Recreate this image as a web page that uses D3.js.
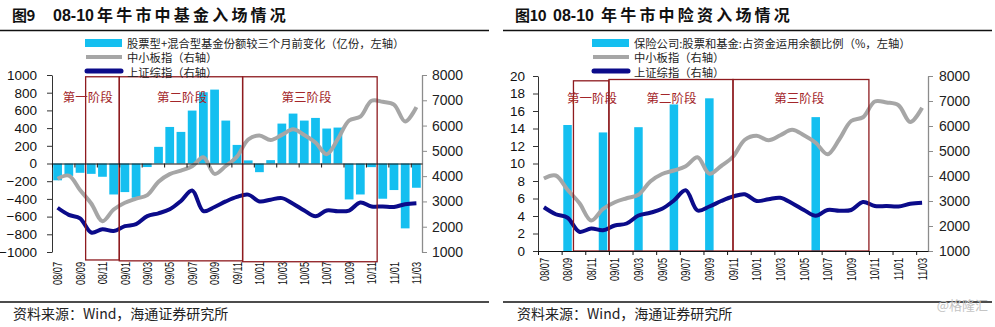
<!DOCTYPE html>
<html>
<head>
<meta charset="utf-8">
<script src="https://cdn.jsdelivr.net/npm/d3@7"></script>
<style>
  body { margin: 0; background: #fff; }
  svg { display: block; }
  text { font-family: Arial, "Liberation Sans", sans-serif; }
  .cjk { font-family: "Noto Sans CJK SC", sans-serif; }
</style>
</head>
<body>
<svg id="chart" width="995" height="327"></svg>
<script>
// monthly categories, Jul 2008 - Mar 2011
const months = [
  '08/07', '08/08', '08/09', '08/10', '08/11', '08/12',
  '09/01', '09/02', '09/03', '09/04', '09/05', '09/06',
  '09/07', '09/08', '09/09', '09/10', '09/11', '09/12',
  '10/01', '10/02', '10/03', '10/04', '10/05', '10/06',
  '10/07', '10/08', '10/09', '10/10', '10/11', '10/12',
  '11/01', '11/02', '11/03'
];
const tickMonths = months.filter((d, i) => i % 2 === 0);

// equity + hybrid fund shares, change vs 3 months earlier (100m units)
const fundChange = [
  -190, -140, -105, -117, -150, -350,
  -323, -387, -40, 188, 413, 357,
  598, 805, 835, 485, 210, 35,
  -98, 38, 451, 564, 485, 515,
  395, 406, -406, -350, -41, -398,
  -300, -733, -274
];

// insurers: stocks + funds as % of invested assets (quarterly)
const insuranceQuarters = ['08/09', '08/12', '09/03', '09/06', '09/09', '10/06'];
const insuranceShare = [14.4, 13.55, 14.15, 16.75, 17.45, 15.3];

// SME board index and Shanghai composite, monthly
const smeIndex = [
  3900, 4020, 3450, 2920, 2220, 2680,
  2950, 3110, 3250, 3780, 4080, 4220,
  4390, 4750, 4090, 4400, 4770, 5450,
  5610, 5430, 5630, 5850, 5630, 5330,
  4870, 5470, 6200, 6350, 6980, 6940,
  6830, 6160, 6730
];
const sseIndex = [
  2750, 2470, 2330, 1770, 1900, 1830,
  2020, 2100, 2420, 2530, 2690, 3020,
  3430, 2620, 2780, 3000, 3180, 3270,
  3000, 3070, 3130, 2910, 2640, 2410,
  2640, 2610, 2640, 2960, 2800, 2800,
  2780, 2890, 2930
];

const stageNames = ['第一阶段', '第二阶段', '第三阶段'];
// stage spans in month units from Jul 2008
const fundStageSpans = [[3, 6], [6, 17], [17, 29]];
const insuranceStageSpans = [[3, 6], [6, 16.5], [16.5, 28]];

const CYAN = '#14bff0', GRAY = '#a6a6a6', NAVY = '#0b0b8a', MAROON = '#8e1b1f';

const svg = d3.select('#chart');
svg.append('rect').attr('width', 995).attr('height', 327).attr('fill', '#fff');

function drawPanel(p) {
  const g = svg.append('g');

  const x = d3.scaleBand().domain(months).range([p.x0, p.x1])
    .paddingInner(p.pad).paddingOuter(p.pad / 2);
  const monthPos = d3.scaleLinear().domain([0, months.length]).range([p.x0, p.x1]);
  const cx = m => x(m) + x.bandwidth() / 2;
  const yL = d3.scaleLinear().domain(p.leftDomain).range([p.yBottom, p.yTop]);
  const yR = d3.scaleLinear().domain([1000, 8000]).range([p.yBottom, p.yTop]);

  // title + rules
  const title = g.append('g').attr('font-weight', 'bold').attr('fill', '#111');
  title.append('text').attr('class', 'cjk').attr('x', p.titleX).attr('y', 21)
    .attr('font-size', 15).attr('letter-spacing', -0.5).text(p.titleNo);
  title.append('text').attr('x', p.titleX2).attr('y', 21)
    .attr('font-size', 16).text('08-10');
  title.append('text').attr('class', 'cjk').attr('x', p.titleX3).attr('y', 21)
    .attr('font-size', 16).attr('letter-spacing', 3.2).text(p.title);
  g.append('line').attr('x1', p.ruleX0).attr('x2', p.ruleX1).attr('y1', 30.5).attr('y2', 30.5)
    .attr('stroke', '#111').attr('stroke-width', 1.5);
  g.append('line').attr('x1', p.ruleX0).attr('x2', p.ruleX1).attr('y1', 302).attr('y2', 302)
    .attr('stroke', '#111').attr('stroke-width', 1.5);
  g.append('text').attr('class', 'cjk').attr('x', p.sourceX).attr('y', 319)
    .attr('font-size', 14).attr('fill', '#222')
    .text('资料来源：Wind，海通证券研究所');

  // bars
  g.selectAll('.bar').data(p.bars).join('rect')
    .attr('class', 'bar')
    .attr('x', d => x(d.month))
    .attr('width', x.bandwidth())
    .attr('y', d => yL(Math.max(0, d.value)))
    .attr('height', d => Math.abs(yL(d.value) - yL(0)))
    .attr('fill', CYAN);

  // index lines
  const line = d3.line()
    .x((d, i) => cx(months[i]))
    .y(d => yR(d))
    .curve(d3.curveCatmullRom.alpha(0.5));
  g.append('path').attr('d', line(smeIndex)).attr('fill', 'none')
    .attr('stroke', GRAY).attr('stroke-width', 4).attr('stroke-linejoin', 'round');
  g.append('path').attr('d', line(sseIndex)).attr('fill', 'none')
    .attr('stroke', NAVY).attr('stroke-width', 4).attr('stroke-linejoin', 'round');

  // stage boxes
  p.stages.forEach((s, i) => {
    const top = yL(p.stageTop[i]), bottom = yL(p.stageBottom[i]);
    g.append('rect')
      .attr('x', monthPos(s[0])).attr('y', top)
      .attr('width', monthPos(s[1]) - monthPos(s[0]))
      .attr('height', bottom - top)
      .attr('fill', 'none').attr('stroke', MAROON).attr('stroke-width', 1.3);
    g.append('text').attr('class', 'cjk')
      .attr('x', monthPos(p.stageLabelAt[i])).attr('y', p.stageLabelY)
      .attr('text-anchor', 'middle').attr('dominant-baseline', 'central')
      .attr('font-size', 12.5).attr('fill', '#a3262a')
      .text(stageNames[i]);
  });

  // left axis
  const axL = g.append('g').attr('transform', `translate(${p.x0},0)`)
    .call(d3.axisLeft(yL).tickValues(p.leftTicks).tickFormat(d3.format('d'))
      .tickSize(5).tickSizeOuter(0).tickPadding(p.leftPad));
  axL.select('.domain').attr('stroke', '#333');
  axL.selectAll('.tick line').attr('stroke', '#333');
  axL.selectAll('text').attr('font-size', 13.5).attr('fill', '#111')
    .attr('font-family', 'Arial, "Liberation Sans", sans-serif');

  // right axis
  const axR = g.append('g').attr('transform', `translate(${p.x1},0)`)
    .call(d3.axisRight(yR).tickValues(d3.range(1000, 8001, 1000)).tickFormat(d3.format('d'))
      .tickSize(5).tickSizeOuter(0).tickPadding(p.rightPad));
  axR.select('.domain').attr('stroke', '#8c8c8c').attr('stroke-width', 1.3);
  axR.selectAll('.tick line').attr('stroke', '#8c8c8c');
  axR.selectAll('text').attr('font-size', 14).attr('fill', '#222')
    .attr('font-family', 'Arial, "Liberation Sans", sans-serif');

  // category axis on the zero line
  const axX = g.append('g').attr('transform', `translate(0,${yL(0)})`)
    .call(d3.axisBottom(monthPos).tickValues(d3.range(0, months.length, 2))
      .tickFormat('').tickSize(4).tickSizeOuter(0));
  axX.select('.domain').attr('stroke', '#111').attr('stroke-width', 1.2);
  axX.selectAll('.tick line').attr('stroke', '#111');

  g.selectAll('.xlab').data(tickMonths).join('text')
    .attr('class', 'xlab')
    .attr('transform', d => `translate(${cx(d)},${p.labelTop}) rotate(-90) scale(0.68,1)`)
    .attr('text-anchor', 'end').attr('dominant-baseline', 'central')
    .attr('font-size', 13.5).attr('fill', '#111')
    .text(d => d);

  // legend
  const lg = g.append('g');
  lg.append('rect').attr('x', p.legendX).attr('y', 39).attr('width', 37).attr('height', 8)
    .attr('fill', CYAN);
  lg.append('line').attr('x1', p.legendX + 1).attr('x2', p.legendX + 37)
    .attr('y1', 57).attr('y2', 57).attr('stroke', GRAY).attr('stroke-width', 4);
  lg.append('line').attr('x1', p.legendX + 2).attr('x2', p.legendX + 36)
    .attr('y1', 71).attr('y2', 71).attr('stroke', NAVY).attr('stroke-width', 5)
    .attr('stroke-linecap', 'round');
  [p.barLabel, '中小板指（右轴）', '上证综指（右轴）'].forEach((t, i) => {
    lg.append('text').attr('class', 'cjk')
      .attr('x', p.legendX + 42).attr('y', 43 + i * 14.3)
      .attr('dominant-baseline', 'central')
      .attr('font-size', 11.3).attr('fill', '#222')
      .text(t);
  });
}

drawPanel({
  titleNo: '图9', title: '年牛市中基金入场情况', titleX: 12, titleX2: 53, titleX3: 97,
  sourceX: 13, ruleX0: 0, ruleX1: 489,
  x0: 52, x1: 422, yTop: 75, yBottom: 252, pad: 0.22,
  leftDomain: [-1000, 1000], leftTicks: d3.range(-1000, 1001, 200),
  leftPad: 10, rightPad: 5,
  bars: months.map((m, i) => ({ month: m, value: fundChange[i] })),
  stages: fundStageSpans, stageTop: [980, 980, 980], stageBottom: [-1090, -1100, -1110],
  stageLabelAt: [3.2, 11.6, 22.7], stageLabelY: 96,
  labelTop: 262,
  legendX: 85,
  barLabel: '股票型+混合型基金份额较三个月前变化（亿份，左轴）'
});

drawPanel({
  titleNo: '图10', title: '年牛市中险资入场情况', titleX: 515, titleX2: 553, titleX3: 601,
  sourceX: 517, ruleX0: 503, ruleX1: 992,
  x0: 538, x1: 928, yTop: 76, yBottom: 251, pad: 0.28,
  leftDomain: [0, 20], leftTicks: d3.range(0, 21, 2),
  leftPad: 8, rightPad: 6,
  bars: insuranceQuarters.map((m, i) => ({ month: m, value: insuranceShare[i] })),
  stages: insuranceStageSpans, stageTop: [19.45, 19.6, 19.6], stageBottom: [0, 0, 0],
  stageLabelAt: [4.57, 11.3, 22.1], stageLabelY: 97,
  labelTop: 258,
  legendX: 592,
  barLabel: '保险公司:股票和基金:占资金运用余额比例（%，左轴）'
});

svg.append('text').attr('class', 'cjk').attr('x', 988).attr('y', 310)
  .attr('text-anchor', 'end').attr('font-size', 13).attr('fill', '#c4c4c4')
  .text('@格隆汇');
</script>
</body>
</html>
